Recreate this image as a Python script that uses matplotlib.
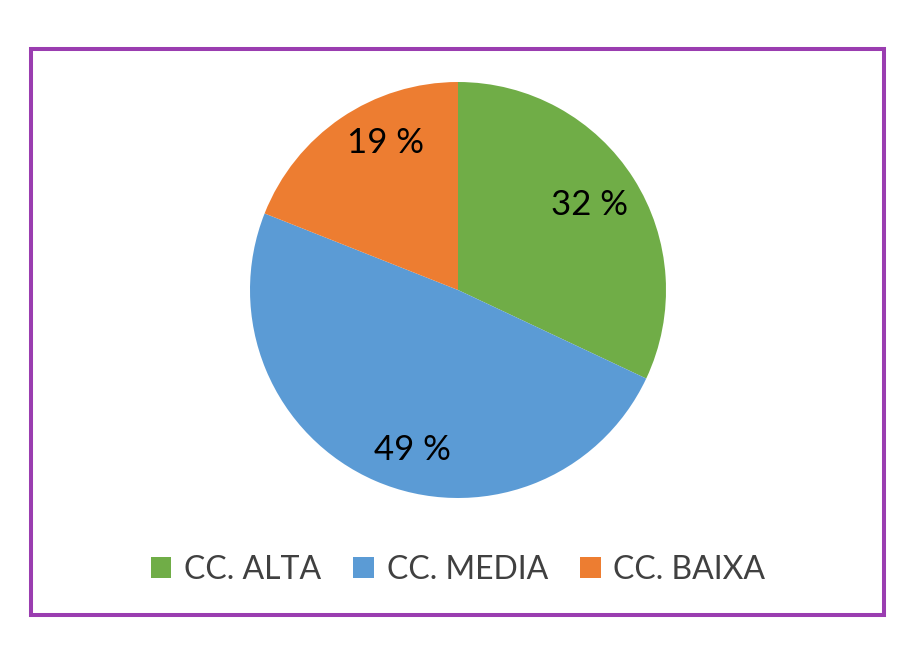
import matplotlib
matplotlib.use("Agg")
import matplotlib.pyplot as plt
from matplotlib.patches import Rectangle

# data
labels = ["CC. ALTA", "CC. MEDIA", "CC. BAIXA"]
values = [32, 49, 19]
colors = ["#70AD47", "#5B9BD5", "#ED7D31"]

plt.rcParams["font.family"] = ["Lato", "DejaVu Sans"]

W, H = 915, 667
fig = plt.figure(figsize=(W / 100, H / 100), dpi=100)

# pie axes: center (458, 290), radius 208 px
cx, cy, r = 458, 290, 208
ax = fig.add_axes([(cx - r) / W, (H - cy - r) / H, 2 * r / W, 2 * r / H])
wedges, texts, autotexts = ax.pie(
    values, colors=colors, startangle=90, counterclock=False,
    autopct=lambda p: f"{p:.0f} %", pctdistance=0.76,
    textprops=dict(fontsize=25, color="black"),
    wedgeprops=dict(linewidth=0),
)
# best-fit style nudges of the labels (Excel places them off the mid-angle)
label_pos = [(0.63, 0.41), (-0.22, -0.77), (-0.35, 0.705)]
for t, p in zip(autotexts, label_pos):
    t.set_position(p)
ax.set_xlim(-1, 1)
ax.set_ylim(-1, 1)
ax.set_aspect("equal")
ax.axis("off")

# legend
fig.legend(wedges, labels, loc="center", bbox_to_anchor=(cx / W, 1 - 570 / H),
           ncol=3, frameon=False, fontsize=23, labelcolor="#404040",
           handlelength=0.65, handleheight=0.65, handletextpad=0.4,
           columnspacing=1.0)

# purple frame
fig.patches.append(Rectangle((31 / W, 1 - 615 / H), (884 - 31) / W, (615 - 49) / H,
                             transform=fig.transFigure, fill=False,
                             edgecolor="#9A3DB0", linewidth=2.9))

fig.savefig("out.png", dpi=100)
